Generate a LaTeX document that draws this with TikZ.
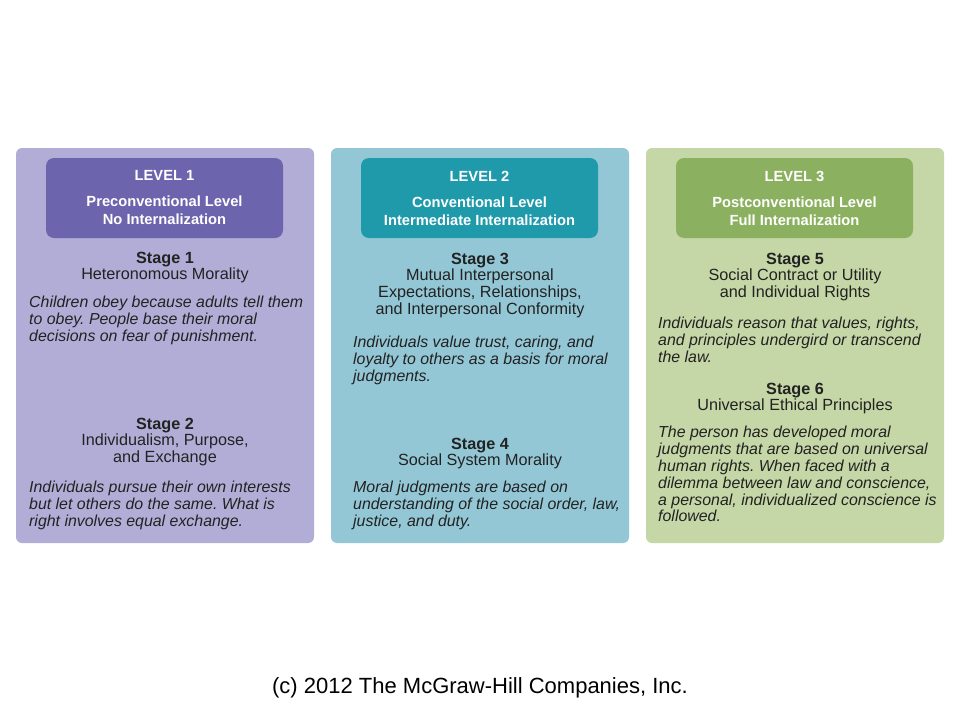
\documentclass[tikz,border=0pt]{standalone}
\usepackage{fontspec}
\setmainfont{Liberation Sans}
\frenchspacing
\definecolor{pOnebg}{HTML}{B2ADD6}
\definecolor{hOne}{HTML}{6C64AC}
\definecolor{pTwobg}{HTML}{94C7D5}
\definecolor{hTwo}{HTML}{1F9AAB}
\definecolor{pThreebg}{HTML}{C5D7A6}
\definecolor{hThree}{HTML}{8BB05F}
\definecolor{txt}{HTML}{222222}
\newcommand{\firststrut}{\rule{0pt}{0.8em}}
\begin{document}
\begin{tikzpicture}[x=1pt,y=-1pt,
  panelbox/.style={rounded corners=6pt, inner sep=0pt, minimum width=298pt, minimum height=395pt},
  hdrbox/.style={rounded corners=8pt, inner sep=0pt, minimum width=237pt, minimum height=80pt,
     text=white, align=center, font=\fontsize{14.7}{18}\selectfont\bfseries},
  stagetxt/.style={font=\fontsize{16.2}{16.8}\selectfont, align=center, anchor=north, inner sep=0pt, text=txt},
  bodytxt/.style={font=\fontsize{15.9}{16.8}\selectfont\itshape, align=left, anchor=north west, inner sep=0pt, text=txt}]
\useasboundingbox (0,0) rectangle (960,720);
\fill[white] (0,0) rectangle (960,720);
% panels
\node[panelbox, fill=pOnebg] (p1) at (165,345.5) {};
\node[panelbox, fill=pTwobg] (p2) at (480,345.5) {};
\node[panelbox, fill=pThreebg] (p3) at (795,345.5) {};
% headers
\node[hdrbox, fill=hOne] (h1) at (164.5,198) {LEVEL 1\\[8pt]Preconventional Level\\No Internalization};
\node[hdrbox, fill=hTwo] (h2) at (479.5,198) {LEVEL 2\\[8pt]Conventional Level\\Intermediate Internalization};
\node[hdrbox, fill=hThree] (h3) at (794.5,198) {LEVEL 3\\[8pt]Postconventional Level\\Full Internalization};
% panel 1
\node[stagetxt] (s1) at (165,250) {\firststrut\textbf{Stage 1}\\Heteronomous Morality};
\node[bodytxt] (b1) at (29,295) {\firststrut Children obey because adults tell them\\to obey. People base their moral\\decisions on fear of punishment.};
\node[stagetxt] (s2) at (165,416) {\firststrut\textbf{Stage 2}\\Individualism, Purpose,\\and Exchange};
\node[bodytxt] (b2) at (29,480) {\firststrut Individuals pursue their own interests\\but let others do the same. What is\\right involves equal exchange.};
% panel 2
\node[stagetxt] (s3) at (480,251) {\firststrut\textbf{Stage 3}\\Mutual Interpersonal\\Expectations, Relationships,\\and Interpersonal Conformity};
\node[bodytxt] (b3) at (353,335) {\firststrut Individuals value trust, caring, and\\loyalty to others as a basis for moral\\judgments.};
\node[stagetxt] (s4) at (480,436) {\firststrut\textbf{Stage 4}\\Social System Morality};
\node[bodytxt] (b4) at (353,480) {\firststrut Moral judgments are based on\\understanding of the social order, law,\\justice, and duty.};
% panel 3
\node[stagetxt] (s5) at (795,251) {\firststrut\textbf{Stage 5}\\Social Contract or Utility\\and Individual Rights};
\node[bodytxt] (b5) at (658,316) {\firststrut Individuals reason that values, rights,\\and principles undergird or transcend\\the law.};
\node[stagetxt] (s6) at (795,381) {\firststrut\textbf{Stage 6}\\Universal Ethical Principles};
\node[bodytxt] (b6) at (658,425) {\firststrut The person has developed moral\\judgments that are based on universal\\human rights. When faced with a\\dilemma between law and conscience,\\a personal, individualized conscience is\\followed.};
% footer
\node[font=\fontsize{22}{24}\selectfont, inner sep=0pt] (foot) at (480,688) {(c) 2012 The McGraw-Hill Companies, Inc.};
\end{tikzpicture}
\end{document}
